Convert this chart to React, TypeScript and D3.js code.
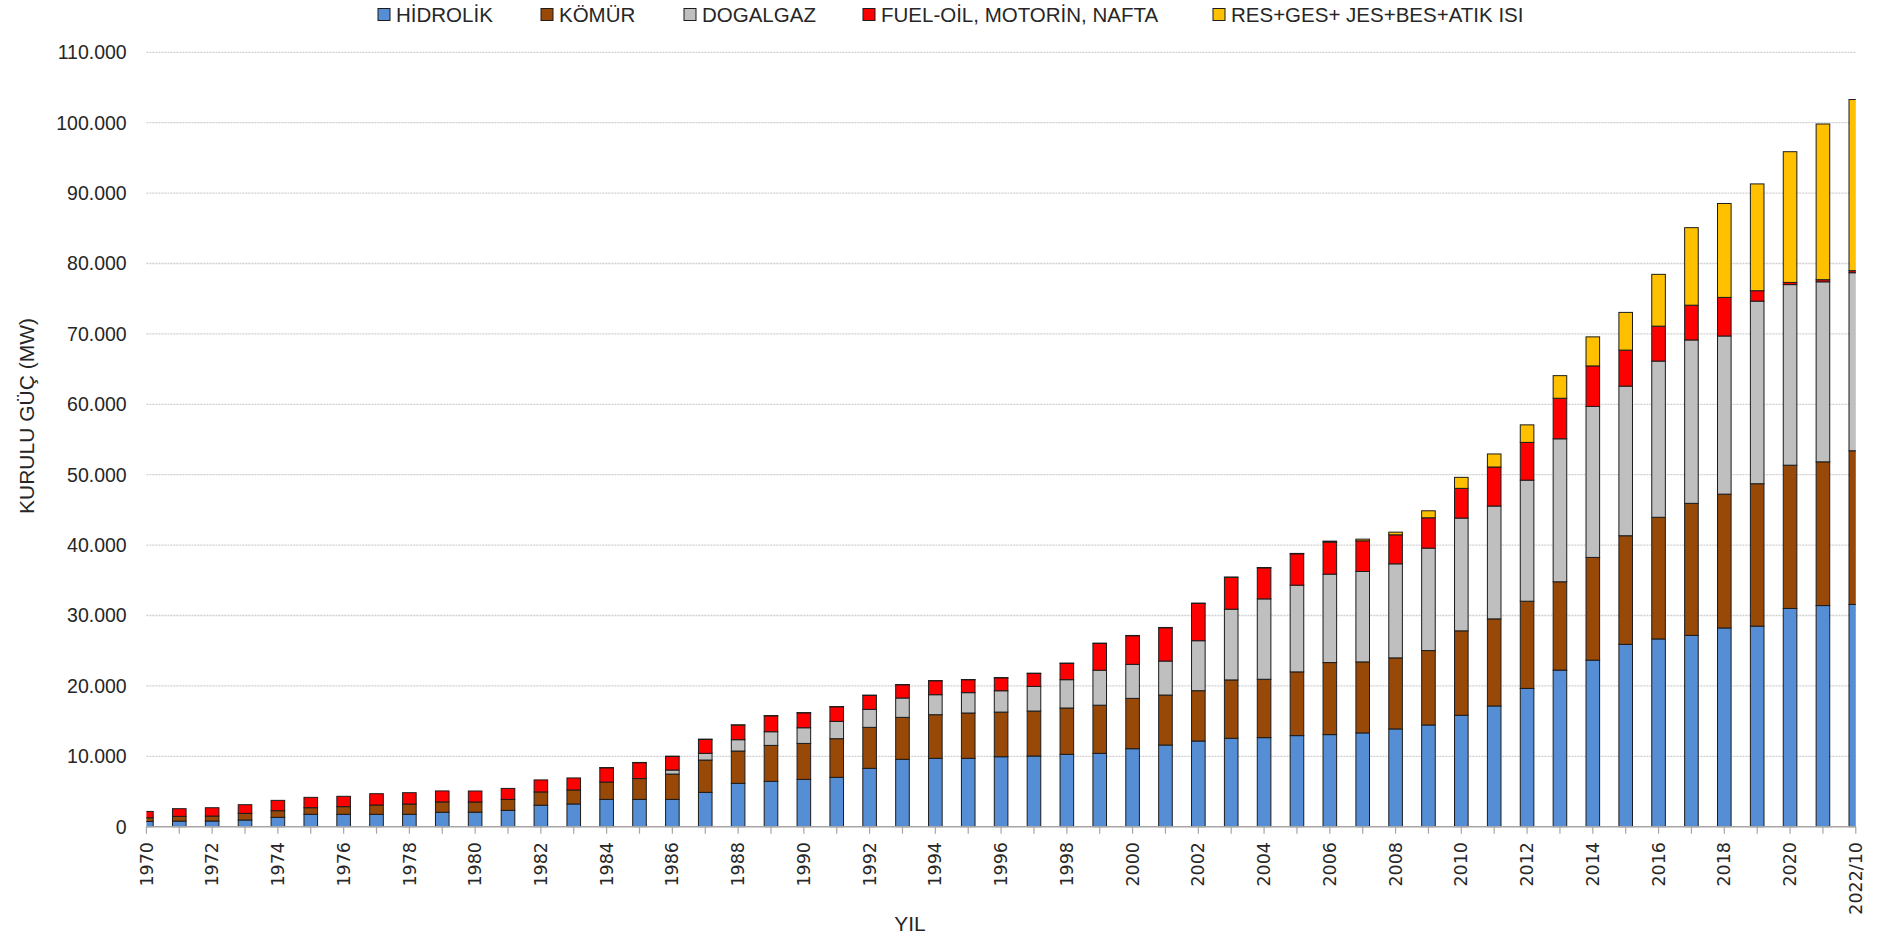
import React from 'react';
import * as d3 from 'd3';

// ---------- DATA ----------
const years: string[] = [
  '1970','1971','1972','1973','1974','1975','1976','1977','1978','1979',
  '1980','1981','1982','1983','1984','1985','1986','1987','1988','1989',
  '1990','1991','1992','1993','1994','1995','1996','1997','1998','1999',
  '2000','2001','2002','2003','2004','2005','2006','2007','2008','2009',
  '2010','2011','2012','2013','2014','2015','2016','2017','2018','2019',
  '2020','2021','2022/10',
];

const hidrolik: number[] = [
  750, 800, 805, 950, 1326, 1760, 1760, 1760, 1760, 2050,
  2060, 2320, 3050, 3230, 3880, 3880, 3880, 4880, 6160, 6440,
  6720, 7010, 8290, 9570, 9710, 9710, 9940, 10040, 10280, 10420,
  11080, 11600, 12170, 12560, 12650, 12940, 13080, 13320, 13890, 14450,
  15830, 17150, 19640, 22240, 23660, 25900, 26670, 27180, 28230, 28490,
  31000, 31410, 31570,
];

const komur: number[] = [
  520, 670, 710, 945, 947, 940, 1090, 1320, 1460, 1470,
  1450, 1560, 1890, 1990, 2460, 2960, 3600, 4590, 4590, 5110,
  5110, 5490, 5820, 5960, 6200, 6440, 6340, 6390, 6580, 6840,
  7150, 7100, 7150, 8290, 8290, 9050, 10235, 10090, 10090, 10570,
  11990, 12370, 12390, 12550, 14590, 15430, 17280, 18750, 19010, 20230,
  20350, 20420, 21830,
];

const dogalgaz: number[] = [
  0, 0, 0, 0, 0, 0, 0, 0, 0, 0,
  0, 0, 0, 0, 0, 0, 570, 950, 1610, 1940,
  2225, 2460, 2560, 2750, 2840, 2890, 3030, 3500, 4025, 4970,
  4830, 4830, 7100, 10050, 11420, 12320, 12560, 12840, 13360, 14550,
  16020, 16030, 17195, 20310, 21450, 21255, 22190, 23210, 22465, 25935,
  25655, 25570, 25290,
];

const fuelOil: number[] = [
  900, 1090, 1180, 1230, 1468, 1468, 1468, 1610, 1610, 1560,
  1560, 1560, 1705, 1705, 2040, 2270, 1940, 1990, 2085, 2270,
  2130, 2085, 1990, 1895, 1990, 1850, 1850, 1850, 2320, 3810,
  4070, 4735, 5300, 4520, 4410, 4455, 4550, 4360, 4120, 4310,
  4220, 5545, 5365, 5760, 5750, 5110, 4960, 4940, 5480, 1480,
  305, 300, 290,
];

const yenilenebilir: number[] = [
  0, 0, 0, 0, 0, 0, 0, 0, 0, 0,
  0, 0, 0, 0, 18, 18, 18, 18, 18, 18,
  18, 18, 18, 18, 18, 18, 18, 18, 27, 27,
  36, 36, 37, 42, 48, 55, 140, 237, 380, 995,
  1564, 1850, 2490, 3210, 4130, 5360, 7360, 11010, 13340, 15170,
  18570, 22115, 24310,
];

const seriesNames: string[] = [
  'HİDROLİK',
  'KÖMÜR',
  'DOGALGAZ',
  'FUEL-OİL, MOTORİN, NAFTA',
  'RES+GES+ JES+BES+ATIK ISI',
];
const seriesValues: number[][] = [hidrolik, komur, dogalgaz, fuelOil, yenilenebilir];
const seriesColors: string[] = ['#558ED5', '#984807', '#BFBFBF', '#FF0000', '#FFC000'];

const yTicks: number[] = [0, 10000, 20000, 30000, 40000, 50000, 60000, 70000, 80000, 90000, 100000, 110000];

const yTitle = 'KURULU GÜÇ (MW)';
const xTitle = 'YIL';

// ---------- LAYOUT ----------
const W = 1877;
const H = 937;
const plotLeft = 146.4;
const plotRight = 1855.8;
const plotTop = 52.3;
const plotBottom = 826.7;
const barWidth = 13.6;
const legendX = [378, 541, 684, 863, 1213];
const legendY = 14.5;

const fmt = (v: number) => (v === 0 ? '0' : d3.format(',')(v).replace(/,/g, '.'));

export default function App() {
  const x = d3.scalePoint<string>().domain(years).range([plotLeft, plotRight]);
  const y = d3.scaleLinear().domain([0, 110000]).range([plotBottom, plotTop]);

  const rows = years.map((yr, i) => {
    const r: Record<string, number | string> = { year: yr };
    seriesNames.forEach((n, s) => (r[n] = seriesValues[s][i]));
    return r;
  });
  const stack = d3.stack<Record<string, number | string>>().keys(seriesNames).value((d, k) => d[k] as number);
  const layers = stack(rows);

  return (
    <svg
      width={W}
      height={H}
      style={{ position: 'absolute', left: 0, top: 0, display: 'block', background: '#fff' }}
      fontFamily="'Liberation Sans', Arial, sans-serif"
    >
      <defs>
        <clipPath id="plotClip">
          <rect x={plotLeft} y={0} width={plotRight - plotLeft} height={plotBottom + 1} />
        </clipPath>
      </defs>

      {/* gridlines */}
      {yTicks.filter((t) => t > 0).map((t) => (
        <line
          key={'g' + t}
          x1={plotLeft}
          x2={plotRight}
          y1={y(t)}
          y2={y(t)}
          stroke="#cfcfcf"
          strokeWidth={1.3}
          strokeDasharray="2 1"
        />
      ))}

      {/* y tick labels */}
      {yTicks.map((t) => (
        <text
          key={'yl' + t}
          x={126.7}
          y={y(t)}
          dy="0.35em"
          textAnchor="end"
          fontSize={19.5}
          fill="#262626"
        >
          {fmt(t)}
        </text>
      ))}

      {/* bars */}
      <g clipPath="url(#plotClip)">
        {layers.map((layer, s) => (
          <g key={'s' + s} fill={seriesColors[s]}>
            {layer.map((d, i) => {
              const v = d[1] - d[0];
              if (v <= 0) return null;
              const cx = x(years[i]) as number;
              return (
                <rect
                  key={i}
                  x={cx - barWidth / 2}
                  y={y(d[1])}
                  width={barWidth}
                  height={Math.max(0.3, y(d[0]) - y(d[1]))}
                  stroke="#1c1c1c"
                  strokeWidth={1}
                />
              );
            })}
          </g>
        ))}
      </g>

      {/* x axis */}
      <line x1={plotLeft} x2={plotRight} y1={plotBottom} y2={plotBottom} stroke="#a6a6a6" strokeWidth={1.5} />
      {years.map((yr) => (
        <line
          key={'t' + yr}
          x1={x(yr) as number}
          x2={x(yr) as number}
          y1={plotBottom}
          y2={plotBottom + 7}
          stroke="#a6a6a6"
          strokeWidth={1.2}
        />
      ))}
      {years.map((yr, i) =>
        i % 2 === 0 ? (
          <text
            key={'xl' + yr}
            transform={`translate(${x(yr)},842) rotate(-90)`}
            textAnchor="end"
            dy="0.35em"
            fontSize={17.5}
            fontFamily="'DejaVu Sans', Verdana, sans-serif"
            fill="#262626"
          >
            {yr}
          </text>
        ) : null
      )}

      {/* axis titles */}
      <text x={910} y={931} textAnchor="middle" fontSize={21} fill="#262626">
        {xTitle}
      </text>
      <text
        transform={`translate(27,416) rotate(-90)`}
        textAnchor="middle"
        dy="0.35em"
        fontSize={21}
        fill="#262626"
      >
        {yTitle}
      </text>

      {/* legend */}
      {seriesNames.map((n, s) => (
        <g key={'lg' + s}>
          <rect
            x={legendX[s]}
            y={legendY - 6}
            width={12}
            height={12}
            fill={seriesColors[s]}
            stroke="#1c1c1c"
            strokeWidth={1}
          />
          <text x={legendX[s] + 18} y={legendY} dy="0.35em" fontSize={20.5} fill="#262626">
            {n}
          </text>
        </g>
      ))}
    </svg>
  );
}
